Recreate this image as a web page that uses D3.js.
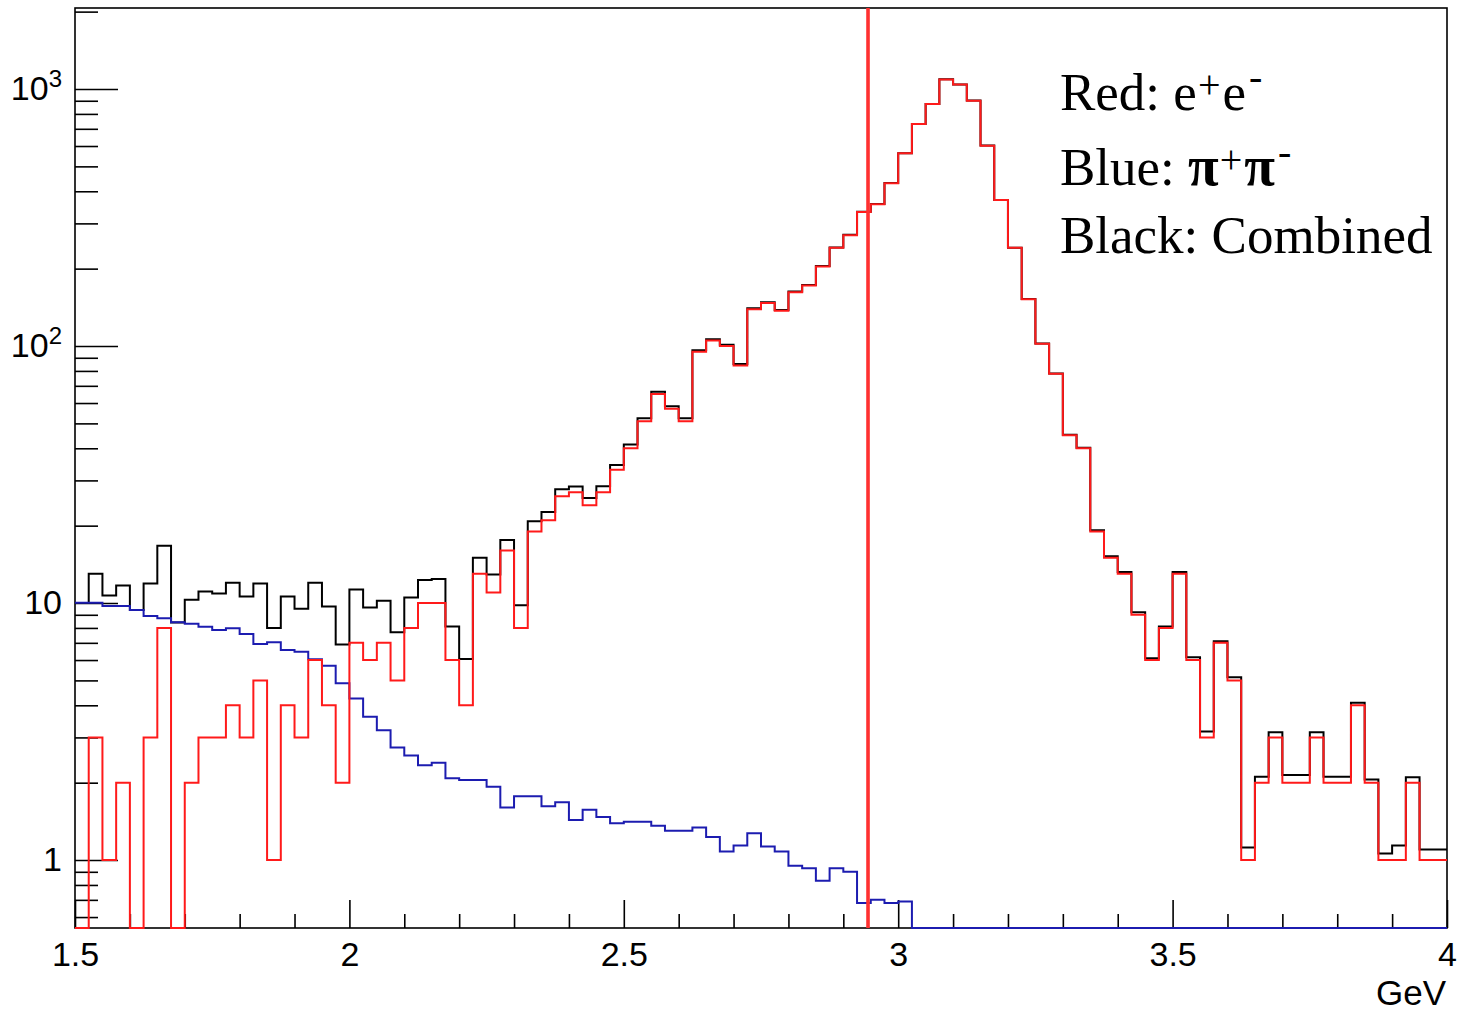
<!DOCTYPE html>
<html><head><meta charset="utf-8">
<script src="https://cdn.jsdelivr.net/npm/d3@7"></script>
<style>body{margin:0;background:#fff}svg{display:block}</style>
</head><body>
<svg id="chart" width="1458" height="1011"></svg>
<script>
// ---------- data ----------
const xStart = 1.5, xEnd = 4.0, binWidth = 0.025;
const yMin = 0.544, yMax = 2066;

const redCounts = [
  0,3,1,2,0,3,8,0,2,3,
  3,4,3,5,1,4,3,6,4,2,
  7,6,7,5,8,10,10,6,4,13,
  11,16,8,19,21,26,27,24,27,33,
  40,51,65,57,51,95,105,100,84,139,
  147,137,162,172,204,241,270,332,356,430,
  562,731,874,1090,1040,901,602,370,241,152,
  102,78,45,40,19,15,13,9,6,8,
  13,6,3,7,5,1,2,3,2,2,
  3,2,2,4,2,1,1,2,1,1];

const blueValues = [
  10.03,10.03,9.73,9.73,9.39,8.90,8.72,8.41,8.30,8.09,
  7.85,7.97,7.57,6.93,7.03,6.56,6.47,6.04,5.70,4.87,
  4.25,3.61,3.20,2.74,2.55,2.34,2.39,2.08,2.05,2.05,
  1.93,1.60,1.77,1.77,1.62,1.68,1.43,1.57,1.47,1.39,
  1.41,1.41,1.36,1.30,1.30,1.34,1.23,1.08,1.14,1.27,
  1.13,1.08,0.95,0.93,0.83,0.93,0.90,0.68,0.70,0.68,
  0.69,0.50,0.45,0.40,0.40,0.35,0.30,0.30,0.25,0.25,
  0.20,0.20,0.20,0.20,0.15,0.15,0.15,0.15,0.09,0.09,
  0.15,0.15,0.16,0.10,0.14,0.12,0.11,0.14,0.14,0.14,
  0.14,0.11,0.11,0.09,0.06,0.06,0.14,0.10,0.10,0.10];

const blackValues = [
  10.0,13.0,10.7,11.7,9.4,11.9,16.7,8.4,10.3,11.1,
  10.9,12.0,10.6,11.9,8.0,10.6,9.5,12.0,9.7,6.9,
  11.3,9.6,10.2,7.7,10.5,12.3,12.4,8.1,6.05,15.0,
  12.9,17.6,9.8,20.8,22.6,27.7,28.4,25.6,28.5,34.4,
  41.4,52.4,66.4,58.3,52.3,96.3,106.2,101.1,85.1,140.3,
  148.1,138.1,163.0,172.9,204.8,241.9,270.9,332.7,356.7,430.7,
  562.7,731.5,874.5,1090.4,1040.4,901.4,602.3,370.3,241.3,152.3,
  102.2,78.2,45.2,40.2,19.2,15.2,13.2,9.2,6.1,8.1,
  13.2,6.15,3.16,7.1,5.14,1.12,2.11,3.14,2.14,2.14,
  3.14,2.11,2.11,4.09,2.06,1.06,1.14,2.10,1.10,1.10];

const cutValue = 2.945;

const xMajorTicks = [1.5,2,2.5,3,3.5,4];
const xTickLabels = ["1.5","2","2.5","3","3.5","4"];
const xMinorTicks = [1.6,1.7,1.8,1.9,2.1,2.2,2.3,2.4,2.6,2.7,2.8,2.9,3.1,3.2,3.3,3.4,3.6,3.7,3.8,3.9];
const yMajorTicks = [1,10,100,1000];
const yTickBase = ["1","10","10","10"];
const yTickExp  = ["","","2","3"];
const yMinorTicks = [0.6,0.7,0.8,0.9,2,3,4,5,6,7,8,9,20,30,40,50,60,70,80,90,200,300,400,500,600,700,800,900,2000];
const xTitle = "GeV";

// ---------- layout ----------
const L = 75, R = 1447, T = 8, B = 928;
const svg = d3.select("#chart");
const x = d3.scaleLinear().domain([xStart, xEnd]).range([L, R]);
const y = d3.scaleLog().domain([yMin, yMax]).range([B, T]).clamp(true);
const yv = v => v > 0 ? y(v) : B;

const sansFont = "'Liberation Sans', Arial, Helvetica, sans-serif";
const serifFont = "'Liberation Serif', 'Times New Roman', serif";

// frame
svg.append("rect").attr("x", L).attr("y", T).attr("width", R - L).attr("height", B - T)
  .attr("fill", "none").attr("stroke", "#000").attr("stroke-width", 1.6);

// x axis
const gx = svg.append("g").attr("transform", `translate(0,${B})`);
gx.call(d3.axisBottom(x).tickValues(xMajorTicks).tickSizeInner(-28).tickSizeOuter(0).tickPadding(14)
  .tickFormat((d, i) => xTickLabels[i]));
const gxm = svg.append("g").attr("transform", `translate(0,${B})`);
gxm.call(d3.axisBottom(x).tickValues(xMinorTicks).tickSizeInner(-14).tickSizeOuter(0).tickFormat(""));
[gx, gxm].forEach(g => {
  g.select(".domain").remove();
  g.selectAll(".tick line").attr("stroke", "#000").attr("stroke-width", 1.6);
});
gx.selectAll(".tick text").attr("font-family", sansFont).attr("font-size", 34).attr("fill", "#000");

svg.append("text").attr("x", R - 1).attr("y", 1005).attr("text-anchor", "end")
  .attr("font-family", sansFont).attr("font-size", 35).attr("fill", "#000").text(xTitle);

// y axis
const gy = svg.append("g").attr("transform", `translate(${L},0)`);
gy.call(d3.axisLeft(y).tickValues(yMajorTicks).tickSizeInner(-43).tickSizeOuter(0).tickPadding(13)
  .tickFormat(() => ""));
const gym = svg.append("g").attr("transform", `translate(${L},0)`);
gym.call(d3.axisLeft(y).tickValues(yMinorTicks).tickSizeInner(-23).tickSizeOuter(0).tickFormat(""));
[gy, gym].forEach(g => {
  g.select(".domain").remove();
  g.selectAll(".tick line").attr("stroke", "#000").attr("stroke-width", 1.6);
});
gy.selectAll(".tick text").each(function(d, i) {
  const t = d3.select(this).attr("font-family", sansFont).attr("font-size", 34).attr("fill", "#000");
  t.text(null);
  t.append("tspan").text(yTickBase[i]);
  if (yTickExp[i]) t.append("tspan").attr("font-size", 24).attr("dy", -13).text(yTickExp[i]);
});

// histograms (outline without the outer vertical edges, like ROOT)
function histPoints(vals) {
  const pts = [];
  vals.forEach((v, i) => {
    const lo = xStart + i * binWidth, hi = lo + binWidth;
    pts.push([x(lo), yv(v)], [x(hi), yv(v)]);
  });
  return pts;
}
const line = d3.line();
const series = [
  {vals: blackValues, color: "#000000"},
  {vals: blueValues, color: "#1c1cb0"},
  {vals: redCounts, color: "#ff1a1a"}
];
series.forEach(s => {
  svg.append("path").attr("d", line(histPoints(s.vals))).attr("fill", "none")
    .attr("stroke", s.color).attr("stroke-width", 2).attr("stroke-linejoin", "miter");
});

// cut line
svg.append("line").attr("x1", x(cutValue)).attr("x2", x(cutValue)).attr("y1", T).attr("y2", B)
  .attr("stroke", "#ff3030").attr("stroke-width", 3.6);

// legend
const legend = [
  {label: "Red: ", a: "e", b: "e", greek: false, y: 110},
  {label: "Blue: ", a: "\u03C0", b: "\u03C0", greek: true, y: 185},
  {label: "Black: Combined", a: null, y: 253}
];
legend.forEach(l => {
  const t = svg.append("text").attr("x", 1060).attr("y", l.y)
    .attr("font-family", serifFont).attr("font-size", 53).attr("fill", "#000");
  t.append("tspan").text(l.label);
  if (l.a) {
    const w = l.greek ? "bold" : "normal";
    const fs = l.greek ? 56 : 53;
    t.append("tspan").attr("font-weight", w).attr("font-size", fs).text(l.a);
    t.append("tspan").attr("font-size", 40).attr("dy", -12).attr("dx", 1).text("+");
    t.append("tspan").attr("font-weight", w).attr("font-size", fs).attr("dy", 12).attr("dx", 2).text(l.b);
    t.append("tspan").attr("font-size", 40).attr("dy", -20).attr("dx", 3).text("-");
  }
});
</script>
</body></html>
